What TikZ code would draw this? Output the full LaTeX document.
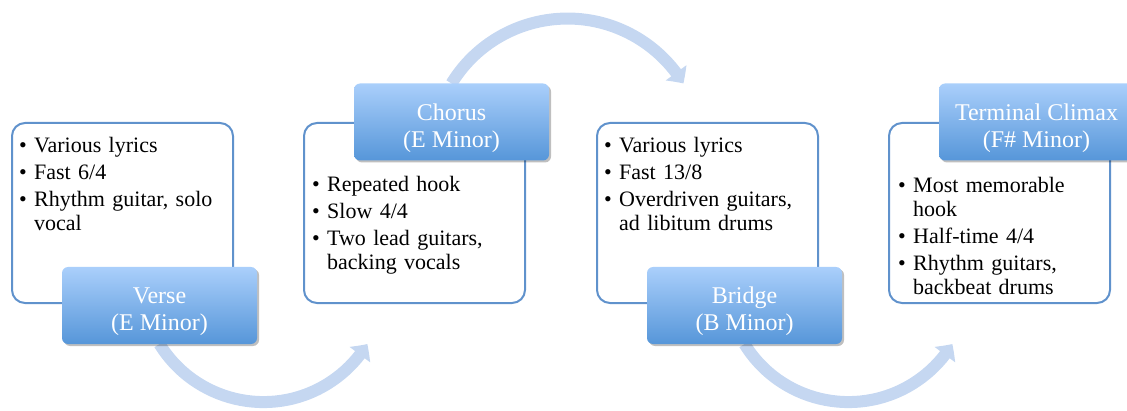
\documentclass[tikz,border=0pt]{standalone}
\usepackage{fontspec}
\setmainfont{Liberation Serif}
\usetikzlibrary{arrows.meta,bending,shadows,calc}

\definecolor{panelblue}{RGB}{96,146,204}
\definecolor{labeltop}{RGB}{170,207,251}
\definecolor{labelbottom}{RGB}{86,150,217}
\definecolor{arcblue}{RGB}{197,215,241}

% one bullet line of a panel
\newcommand{\bitem}[1]{\par\hangindent=15pt\hangafter=1\noindent
  \makebox[15pt][l]{\textbullet}#1}

\begin{document}
\begin{tikzpicture}[x=1pt, y=1pt,
    panel/.style={draw=panelblue, line width=2pt, rounded corners=13pt,
                  minimum width=221pt, minimum height=180pt, inner sep=0pt},
    items/.style={anchor=north west, inner sep=0pt, text width=205pt,
                  font=\fontsize{22}{24}\selectfont,
                  execute at begin node={\setlength{\parskip}{3pt}}},
    sectionlabel/.style={rounded corners=6pt, top color=labeltop,
                  bottom color=labelbottom, text=white, align=center,
                  minimum width=195pt, minimum height=77pt, text height=56pt,
                  font=\fontsize{24}{27}\selectfont,
                  drop shadow={shadow xshift=2pt, shadow yshift=-2pt,
                               opacity=0.25, fill=black}},
    flow/.style={draw=arcblue, line width=12pt,
                 -{Triangle[width=25pt,length=13pt,bend]}}]
  \useasboundingbox (0,0) rectangle (1127,410);
  \clip (0,0) rectangle (1127,410);

  % The four panels
  \foreach \name/\x in {verse/122.5, chorus/414.5, bridge/707.5, climax/999.5}
    \node[panel] (\name-box) at (\x,197) {};

  % Bullet texts of the panels
  \node[items] (verse-text) at ($(verse-box.north west)+(8,-3)$) {%
    \bitem{Various lyrics}
    \bitem{Fast 6/4}
    \bitem{Rhythm guitar, solo\newline vocal}\par};
  \node[items] (chorus-text) at ($(chorus-box.north west)+(9,-42)$) {%
    \bitem{Repeated hook}
    \bitem{Slow 4/4}
    \bitem{Two lead guitars,\newline backing vocals}\par};
  \node[items] (bridge-text) at ($(bridge-box.north west)+(8,-3)$) {%
    \bitem{Various lyrics}
    \bitem{Fast 13/8}
    \bitem{Overdriven guitars,\newline ad libitum drums}\par};
  \node[items] (climax-text) at ($(climax-box.north west)+(10,-43)$) {%
    \bitem{Most memorable\newline hook}
    \bitem{Half-time 4/4}
    \bitem{Rhythm guitars,\newline backbeat drums}\par};

  % Coordinates where the labels sit on the panels
  \coordinate (verse-at)  at ($(verse-box.south)+(37,-1.5)$);
  \coordinate (chorus-at) at ($(chorus-box.north)+(37,0)$);
  \coordinate (bridge-at) at ($(bridge-box.south)+(37,-1.5)$);
  \coordinate (climax-at) at ($(climax-box.north)+(37,0)$);

  % The arrows go under the labels, so draw them from the label anchors first
  \path (verse-at) +(0,-38.5) coordinate (verse-foot)
        (chorus-at) +(0,38.5) coordinate (chorus-head)
        (bridge-at) +(0,-38.5) coordinate (bridge-foot);
  \draw[flow] (verse-foot) arc[start angle=211.6, end angle=328.4, radius=122];
  \draw[flow] (chorus-head) arc[start angle=148.5, end angle=31.5, radius=136];
  \draw[flow] (bridge-foot) arc[start angle=211.6, end angle=328.4, radius=122];

  % Section labels
  \node[sectionlabel] (verse)  at (verse-at)  {Verse\\(E Minor)};
  \node[sectionlabel] (chorus) at (chorus-at) {Chorus\\(E Minor)};
  \node[sectionlabel] (bridge) at (bridge-at) {Bridge\\(B Minor)};
  \node[sectionlabel] (climax) at (climax-at) {Terminal Climax\\(F\# Minor)};
\end{tikzpicture}
\end{document}
